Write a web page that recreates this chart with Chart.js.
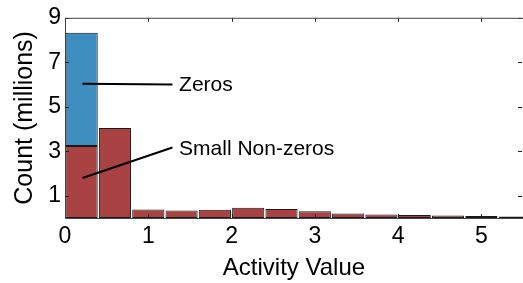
<!DOCTYPE html>
<html><head><meta charset="utf-8">
<script src="https://cdn.jsdelivr.net/npm/chart.js@4"></script>
<style>html,body{margin:0;padding:0;background:#fff;}canvas{display:block;}</style>
</head><body>
<canvas id="c" width="523" height="283"></canvas>
<script>
// Bin centres (activity value), bin width 0.4
const binCenters = [0.2, 0.6, 1.0, 1.4, 1.8, 2.2, 2.6, 3.0, 3.4, 3.8, 4.2, 4.6, 5.0, 5.4];
// Counts in millions
const nonZeroCounts = [3.24, 4.05, 0.38, 0.34, 0.37, 0.46, 0.41, 0.30, 0.20, 0.16, 0.13, 0.11, 0.09, 0.07];
const zeroCounts    = [5.09, 0, 0, 0, 0, 0, 0, 0, 0, 0, 0, 0, 0, 0];
const xTicks = [0, 1, 2, 3, 4, 5];
const yTicks = [1, 3, 5, 7, 9];
// Annotations: label, text anchor (data units), line from/to (data units)
const annotations = [
  {text: 'Zeros', tx: 1.37, ty: 5.95, x0: 0.21, y0: 6.04, x1: 1.29, y1: 6.0},
  {text: 'Small Non-zeros', tx: 1.37, ty: 3.08, x0: 0.21, y0: 1.8, x1: 1.29, y1: 3.17}
];

const FONT = '"Liberation Sans", Arial, Helvetica, sans-serif';

const framePlugin = {
  id: 'frame',
  afterDatasetsDraw(chart) {
    const {ctx, chartArea: a, scales: {x, y}} = chart;
    ctx.save();
    ctx.strokeStyle = '#222';
    ctx.lineWidth = 1;
    const tl = 4;
    ctx.beginPath();
    xTicks.forEach(v => {
      const px = Math.round(x.getPixelForValue(v)) + 0.5;
      ctx.moveTo(px, a.bottom); ctx.lineTo(px, a.bottom - tl);
      ctx.moveTo(px, a.top); ctx.lineTo(px, a.top + tl);
    });
    yTicks.forEach(v => {
      const py = Math.round(y.getPixelForValue(v)) + 0.5;
      ctx.moveTo(a.left, py); ctx.lineTo(a.left + tl, py);
      ctx.moveTo(a.right - 1, py); ctx.lineTo(a.right - 1 - tl, py);
    });
    ctx.stroke();
    ctx.strokeStyle = '#444';
    ctx.beginPath();
    ctx.moveTo(a.right, a.top + 0.5); ctx.lineTo(a.left + 0.5, a.top + 0.5);
    ctx.lineTo(a.left + 0.5, a.bottom + 0.5); ctx.lineTo(a.right, a.bottom + 0.5);
    ctx.stroke();
    ctx.strokeStyle = '#000';
    ctx.lineWidth = 2;
    ctx.fillStyle = '#000';
    ctx.font = '21px ' + FONT;
    ctx.textBaseline = 'middle';
    ctx.textAlign = 'left';
    annotations.forEach(an => {
      ctx.beginPath();
      ctx.moveTo(x.getPixelForValue(an.x0), y.getPixelForValue(an.y0));
      ctx.lineTo(x.getPixelForValue(an.x1), y.getPixelForValue(an.y1));
      ctx.stroke();
      ctx.fillText(an.text, x.getPixelForValue(an.tx), y.getPixelForValue(an.ty));
    });
    ctx.restore();
  }
};

new Chart(document.getElementById('c'), {
  type: 'bar',
  data: {
    datasets: [
      {label: 'Small Non-zeros', data: binCenters.map((c, i) => ({x: c, y: nonZeroCounts[i]})),
       backgroundColor: '#a94243', borderColor: '#1a1a1a', borderWidth: 1, borderSkipped: false,
       barPercentage: 1, categoryPercentage: 0.965},
      {label: 'Zeros', data: binCenters.map((c, i) => ({x: c, y: zeroCounts[i]})),
       backgroundColor: '#3e8ebf', borderColor: '#1a1a1a', borderWidth: 1, borderSkipped: false,
       barPercentage: 1, categoryPercentage: 0.965}
    ]
  },
  options: {
    responsive: false,
    animation: false,
    layout: {padding: {top: 14, right: 0, left: 10, bottom: 0}},
    plugins: {legend: {display: false}, tooltip: {enabled: false}},
    scales: {
      x: {
        type: 'linear', stacked: true, offset: false, min: 0, max: 5.5,
        grid: {display: false, drawTicks: false},
        border: {display: false},
        afterBuildTicks: s => { s.ticks = xTicks.map(v => ({value: v})); },
        ticks: {color: '#000', font: {family: FONT, size: 23}, padding: 5, autoSkip: false, maxRotation: 0},
        title: {display: true, text: 'Activity Value', color: '#000', font: {family: FONT, size: 24}, padding: {top: 0, bottom: 0}},
        afterFit: s => { s.height = 283 - 218; }
      },
      y: {
        stacked: true, min: 0, max: 9,
        grid: {display: false, drawTicks: false},
        border: {display: false},
        afterBuildTicks: s => { s.ticks = yTicks.map(v => ({value: v})); },
        ticks: {color: '#000', font: {family: FONT, size: 23}, padding: 4},
        title: {display: true, text: 'Count (millions)', color: '#000', font: {family: FONT, size: 25}, padding: {top: 0, bottom: 0}},
        afterFit: s => { s.width = 55; }
      }
    }
  },
  plugins: [framePlugin]
});
</script>
</body></html>
